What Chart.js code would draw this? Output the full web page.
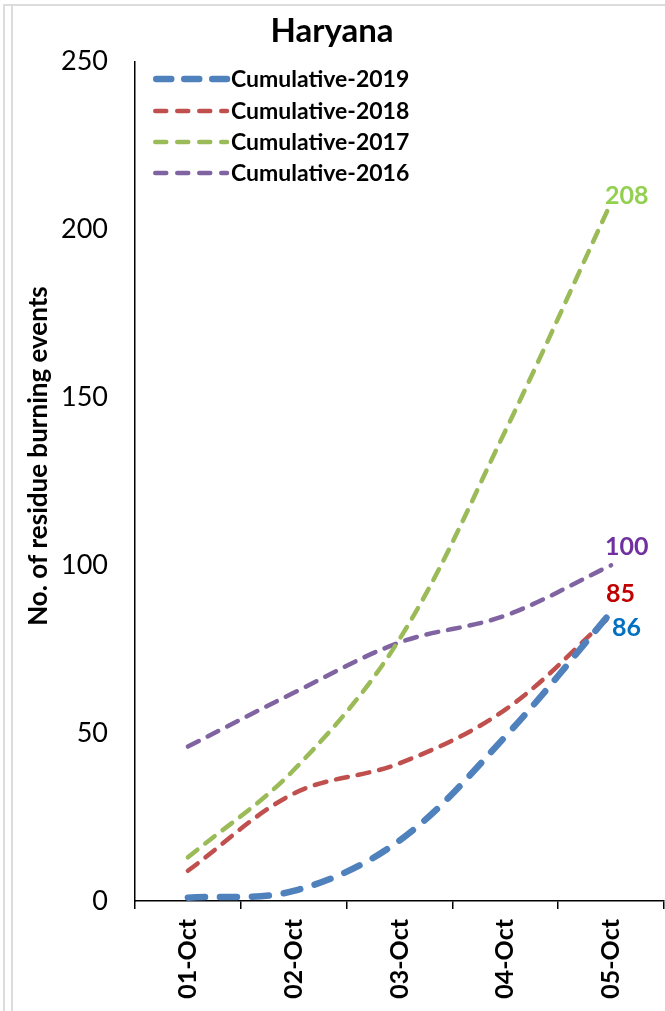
<!DOCTYPE html>
<html>
<head>
<meta charset="utf-8">
<script src="https://cdn.jsdelivr.net/npm/chart.js@4"></script>
<style>
  body { margin: 0; background: #fff; }
  #wrap { position: relative; width: 665px; height: 1011px; }
  .marco { position: absolute; background: #dcdcdc; }
</style>
</head>
<body>
<div id="wrap">
  <canvas id="grafico" width="665" height="1011"></canvas>
  <div class="marco" style="left:3px; top:4px; width:2px; height:1007px;"></div>
  <div class="marco" style="left:11px; top:4px; width:2px; height:1007px;"></div>
  <div class="marco" style="left:3px; top:4px; width:662px; height:2px;"></div>
</div>
<script>
// datos
const dias = ['01-Oct', '02-Oct', '03-Oct', '04-Oct', '05-Oct'];
const acum2019 = [1, 3, 18, 49, 86];
const acum2018 = [9, 32, 41, 57, 85];
const acum2017 = [13, 39, 78, 140, 208];
const acum2016 = [46, 62, 77, 85, 100];
const etiquetasY = [0, 50, 100, 150, 200, 250];

const fuente = 'Lato, "Open Sans", sans-serif';
const tituloY = 'No. of residue burning events';

// leyenda dentro del area del grafico
const leyendaInterna = {
    id: 'leyendaInterna',
    afterDraw(chart) {
        const ctx = chart.ctx;
        const x0 = 153, x1 = 227;
        const filas = [79, 111, 142, 173];
        chart.data.datasets.forEach((ds, i) => {
            const y = filas[i];
            ctx.save();
            ctx.strokeStyle = ds.borderColor;
            ctx.lineWidth = ds.borderWidth;
            ctx.lineCap = 'round';
            ctx.setLineDash(i === 0 ? [15, 13] : [11, 11]);
            ctx.beginPath();
            ctx.moveTo(x0 + ds.borderWidth / 2, y);
            ctx.lineTo(x1, y);
            ctx.stroke();
            ctx.setLineDash([]);
            ctx.fillStyle = '#000';
            ctx.font = 'bold 23px ' + fuente;
            ctx.textBaseline = 'middle';
            ctx.fillText(ds.label, 231, y + 1);
            ctx.restore();
        });
        // titulo del eje y
        ctx.save();
        ctx.translate(39, 456);
        ctx.rotate(-Math.PI / 2);
        ctx.fillStyle = '#000';
        ctx.font = 'bold 26px ' + fuente;
        ctx.textAlign = 'center';
        ctx.textBaseline = 'middle';
        ctx.fillText(tituloY, 0, 0);
        ctx.restore();
    }
};

// valor final de cada serie
const valorFinal = {
    id: 'valorFinal',
    afterDatasetsDraw(chart) {
        const ctx = chart.ctx;
        const desplaz = [[1, 16], [-5, -22], [-6, -7], [-6, -18]];
        chart.data.datasets.forEach((ds, i) => {
            const meta = chart.getDatasetMeta(i);
            const pt = meta.data[meta.data.length - 1];
            ctx.save();
            ctx.fillStyle = ds.colorEtiqueta;
            ctx.font = 'bold 25px ' + fuente;
            ctx.textBaseline = 'middle';
            ctx.fillText(ds.data[ds.data.length - 1], pt.x + desplaz[i][0], pt.y + desplaz[i][1]);
            ctx.restore();
        });
    }
};

new Chart(document.getElementById('grafico').getContext('2d'), {
    type: 'line',
    data: {
        labels: dias,
        datasets: [
            { label: 'Cumulative-2019', data: acum2019, borderColor: '#4F81BD', borderWidth: 6.5, borderDash: [17, 15], colorEtiqueta: '#0070C0' },
            { label: 'Cumulative-2018', data: acum2018, borderColor: '#C0504D', borderWidth: 4.5, borderDash: [12, 10], colorEtiqueta: '#C00000' },
            { label: 'Cumulative-2017', data: acum2017, borderColor: '#9BBB59', borderWidth: 4.5, borderDash: [12, 10], colorEtiqueta: '#92D050' },
            { label: 'Cumulative-2016', data: acum2016, borderColor: '#8064A2', borderWidth: 4.5, borderDash: [12, 10], colorEtiqueta: '#7030A0' }
        ].map(ds => Object.assign(ds, {
            fill: false,
            pointRadius: 0,
            tension: 0.35,
            borderCapStyle: 'round',
            borderJoinStyle: 'round'
        }))
    },
    options: {
        responsive: false,
        animation: false,
        layout: { padding: { left: 0, right: 1, top: 0, bottom: 0 } },
        plugins: {
            legend: { display: false },
            tooltip: { enabled: false },
            title: {
                display: true,
                text: 'Haryana',
                color: '#000',
                font: { family: fuente, size: 33, weight: 'bold' },
                padding: { top: 12, bottom: 10 }
            }
        },
        scales: {
            x: {
                type: 'category',
                offset: true,
                grid: { offset: true, drawOnChartArea: false, color: '#000', tickLength: 8, lineWidth: 1.5 },
                border: { color: '#000', width: 1.5 },
                ticks: {
                    color: '#000',
                    font: { family: fuente, size: 25, weight: 'bold' },
                    minRotation: 90,
                    maxRotation: 90,
                    padding: 10
                },
                afterFit(scale) { scale.height = 110; }
            },
            y: {
                min: 0,
                max: 250,
                afterBuildTicks(scale) { scale.ticks = etiquetasY.map(v => ({ value: v })); },
                grid: { display: true, drawOnChartArea: false, drawTicks: false },
                border: { color: '#000', width: 1.5 },
                ticks: {
                    color: '#000',
                    font: { family: fuente, size: 27 },
                    padding: 27
                },
                afterFit(scale) { scale.width = 135; }
            }
        }
    },
    plugins: [leyendaInterna, valorFinal]
});
</script>
</body>
</html>
